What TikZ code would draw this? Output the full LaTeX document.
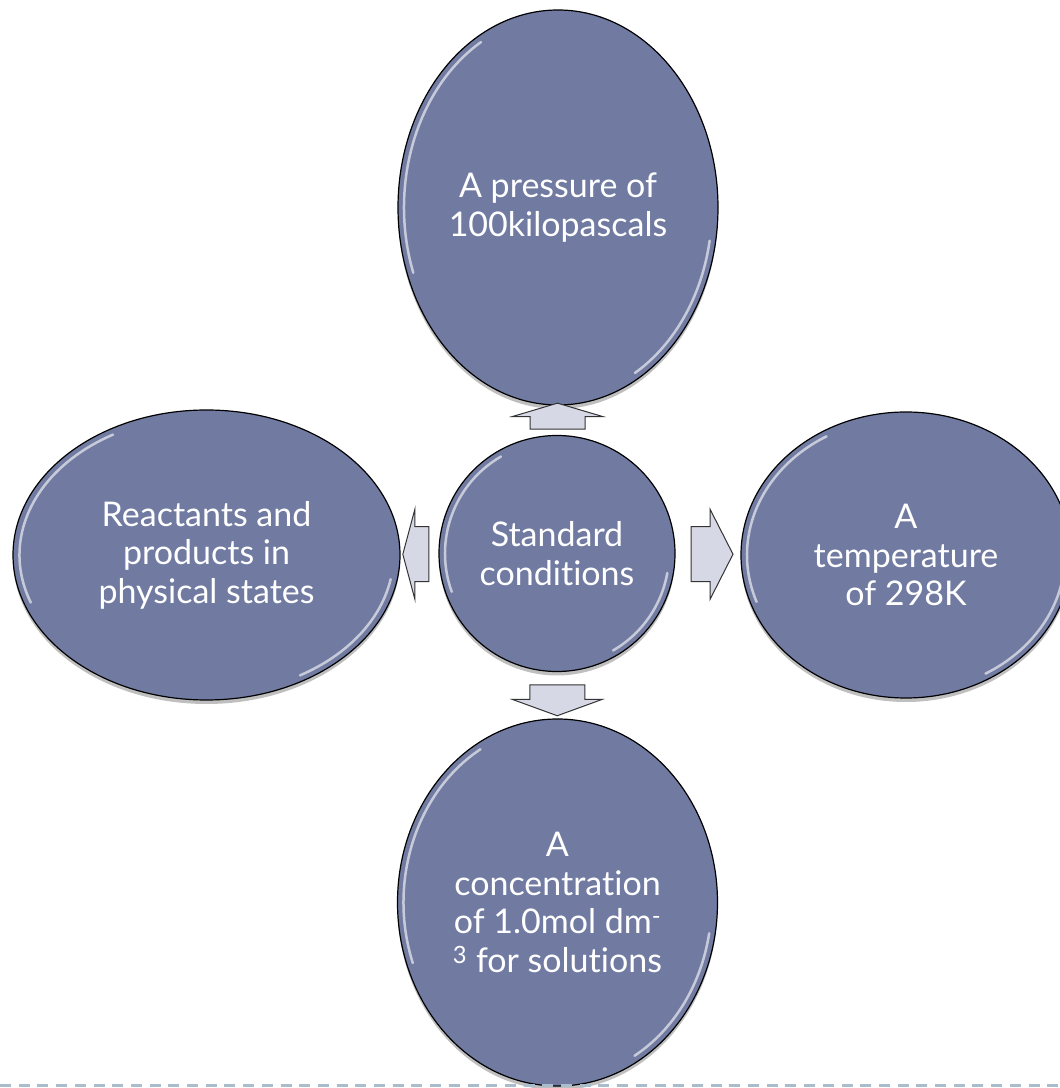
\documentclass[tikz,border=0pt]{standalone}
\usepackage{fontspec}
\setmainfont{Lato}[Ligatures=NoCommon]
\usetikzlibrary{shapes.geometric,shapes.arrows,shadows,calc}

\definecolor{bubblefill}{HTML}{717BA2}
\definecolor{arrowfill}{HTML}{D6D9E5}
\definecolor{dashline}{HTML}{A9BDCD}

\tikzset{
  bubble/.style={ellipse, draw=black, line width=1.2pt, fill=bubblefill, text=white,
    align=center, inner sep=0pt, font=\fontsize{34}{38.5}\selectfont,
    drop shadow={shadow xshift=0pt, shadow yshift=-4pt, opacity=.25, fill=black}},
  blockarrow/.style={single arrow, draw=black!80, line width=1pt, fill=arrowfill,
    inner xsep=0pt, inner ysep=27pt, minimum width=89pt, single arrow head extend=17.5pt},
  gloss/.style={white, line width=2.5pt, opacity=.6, line cap=round}
}

\begin{document}
\begin{tikzpicture}[x=1pt,y=1pt]
        \useasboundingbox (0,0) rectangle (1060,1088);
        \node[bubble, minimum width=320pt, minimum height=395pt] (pressure) at (558,880.5) {A pressure of\\100kilopascals};
        \node[bubble, minimum width=236pt, minimum height=236pt] (std) at (557,534.5) {Standard\\conditions};
        \node[bubble, minimum width=387pt, minimum height=290pt] (states) at (206.5,533) {Reactants and\\products in\\physical states};
        \node[bubble, minimum width=330pt, minimum height=286pt] (temp) at (906,533) {A\\temperature\\of 298K};
        \node[bubble, minimum width=320pt, minimum height=367pt] (conc) at (557.5,185.5) {A\\concentration\\of 1.0mol dm\textsuperscript{-}\\\textsuperscript{3} for solutions};
        % block arrows between the hub and the bubbles
        \node[blockarrow, rotate=90, minimum height=26pt, single arrow tip angle=147] (toP) at ($(std.north)!.5!(pressure.south)$) {};
        \node[blockarrow, rotate=270, minimum height=31pt, single arrow tip angle=140] (toC) at ($(std.south)!.5!(conc.north)$) {};
        \node[blockarrow, rotate=180, minimum height=26pt, single arrow tip angle=150] (toS) at ($(std.west)!.5!(states.east)$) {};
        \node[blockarrow, minimum height=42pt, single arrow tip angle=126] (toT) at ($(std.east)!.5!(temp.west)+(-3,0)$) {};
        % glossy rims
        \foreach \n/\rx/\ry in {pressure/154/191, std/112/112, states/187/139, temp/159/137, conc/154/177}
          {\draw[gloss] ([shift={(120:\rx pt and \ry pt)}]\n.center) arc[start angle=120, end angle=200, x radius=\rx pt, y radius=\ry pt];
           \draw[gloss] ([shift={(-10:\rx pt and \ry pt)}]\n.center) arc[start angle=-10, end angle=-60, x radius=\rx pt, y radius=\ry pt];}
        \draw[dashline, line width=3pt, dash pattern=on 11pt off 7.7pt] (0,2) -- (1060,2);
    \end{tikzpicture}
\end{document}
